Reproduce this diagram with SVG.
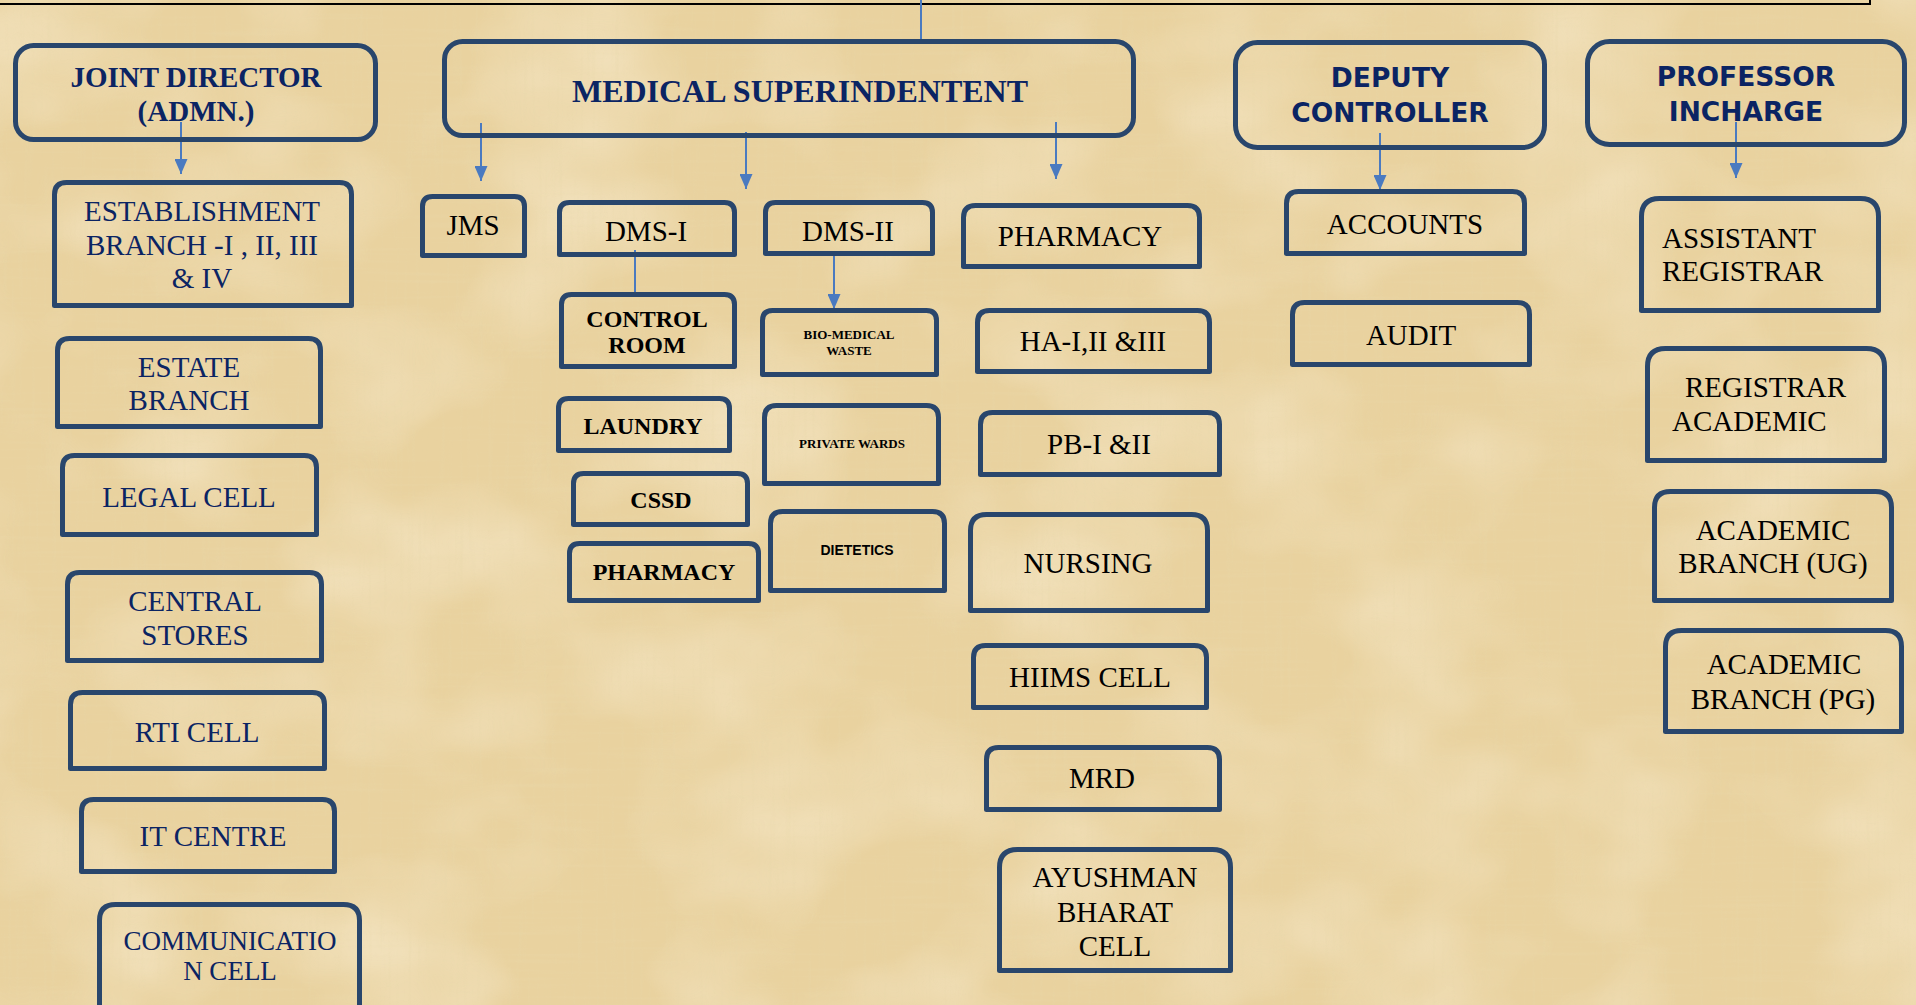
<svg xmlns="http://www.w3.org/2000/svg" width="1916" height="1005" viewBox="0 0 1916 1005">
<defs>
<style>
.box{fill:none;stroke:#29466c;stroke-width:5;stroke-linejoin:round}
.nv{fill:#0b2463;font-family:"Liberation Serif",serif;font-size:29px;text-anchor:middle}
.nv27{font-size:27px}
.bk{fill:#000;font-family:"Liberation Serif",serif;font-size:29px;text-anchor:middle}
.bb{fill:#000;font-family:"Liberation Serif",serif;font-size:24px;font-weight:bold;text-anchor:middle}
.sm{fill:#000;font-family:"Liberation Serif",serif;font-size:13px;font-weight:bold;text-anchor:middle}
.ss{fill:#000;font-family:"Liberation Sans",sans-serif;font-size:14px;font-weight:bold;text-anchor:middle}
.hd{fill:#0b2463;font-family:"Liberation Serif",serif;font-weight:bold;text-anchor:middle}
.hs{fill:#0b2463;font-family:"DejaVu Sans",sans-serif;font-size:26.5px;font-weight:bold;text-anchor:middle}
.st{text-anchor:start}
.ln{fill:none;stroke:#4a7ac0;stroke-width:2}
.ar{fill:none;stroke:#4a7ac0;stroke-width:2;marker-end:url(#arr)}
</style>
<marker id="arr" viewBox="0 0 15 13" markerUnits="userSpaceOnUse" markerWidth="15" markerHeight="13" refX="15" refY="6.5" orient="auto">
<path d="M0 0L15 6.5L0 13Z" fill="#4a7ac0"/>
</marker>
<filter id="tex1" x="0" y="0" width="100%" height="100%">
<feTurbulence type="fractalNoise" baseFrequency="0.006 0.008" numOctaves="3" seed="4"/>
<feColorMatrix type="matrix" values="0 0 0 0 0.98  0 0 0 0 0.91  0 0 0 0 0.76  1.8 0 0 0 -0.75"/>
</filter>
<filter id="tex2" x="0" y="0" width="100%" height="100%">
<feTurbulence type="fractalNoise" baseFrequency="0.25 0.01" numOctaves="2" seed="9"/>
<feColorMatrix type="matrix" values="0 0 0 0 0.80  0 0 0 0 0.68  0 0 0 0 0.40  2 0 0 0 -1"/>
</filter>
<filter id="tex3" x="0" y="0" width="100%" height="100%">
<feTurbulence type="fractalNoise" baseFrequency="0.01 0.25" numOctaves="2" seed="17"/>
<feColorMatrix type="matrix" values="0 0 0 0 0.82  0 0 0 0 0.70  0 0 0 0 0.42  2 0 0 0 -1"/>
</filter>
</defs>
<rect width="1916" height="1005" fill="#E9D29F"/>
<rect width="1916" height="1005" filter="url(#tex1)" opacity="0.5"/>
<rect width="1916" height="1005" filter="url(#tex2)" opacity="0.35"/>
<rect width="1916" height="1005" filter="url(#tex3)" opacity="0.3"/>

<g id="connectors">
<polyline points="0,4 1870,4 1870,0" fill="none" stroke="#000" stroke-width="2"/>
<line class="ln" x1="921" y1="0" x2="921" y2="40"/>
<line class="ar" x1="181" y1="122" x2="181" y2="174"/>
<line class="ar" x1="481" y1="123" x2="481" y2="181"/>
<line class="ar" x1="746" y1="132" x2="746" y2="189"/>
<line class="ar" x1="1056" y1="122" x2="1056" y2="179"/>
<line class="ln" x1="635" y1="250" x2="635" y2="293"/>
<line class="ar" x1="834" y1="254" x2="834" y2="309"/>
<line class="ar" x1="1380" y1="133" x2="1380" y2="190"/>
<line class="ar" x1="1736" y1="122" x2="1736" y2="178"/>
</g>

<g id="joint-director"><rect class="box" x="15.5" y="45.5" width="360" height="94" rx="18"/>
<text class="hd" x="196" y="87" font-size="29">JOINT DIRECTOR</text><text class="hd" x="196" y="121" font-size="29">(ADMN.)</text></g>
<g id="medical-superintendent"><rect class="box" x="444.5" y="41.5" width="689" height="94" rx="18"/>
<text class="hd" x="800" y="102" font-size="32">MEDICAL SUPERINDENTENT</text></g>
<g id="deputy-controller"><rect class="box" x="1235.5" y="42.5" width="309" height="105" rx="22"/>
<text class="hs" x="1390" y="87">DEPUTY</text><text class="hs" x="1390" y="122">CONTROLLER</text></g>
<g id="professor-incharge"><rect class="box" x="1587.5" y="41.5" width="317" height="103" rx="22"/>
<text class="hs" x="1746" y="86">PROFESSOR</text><text class="hs" x="1746" y="121">INCHARGE</text></g>

<g id="establishment"><path class="box" d="M54.5 305.5V194.5Q54.5 182.5 66.5 182.5H339.5Q351.5 182.5 351.5 194.5V305.5Z"/>
<text class="nv" x="202" y="221">ESTABLISHMENT</text><text class="nv" x="202" y="255">BRANCH -I , II, III</text><text class="nv" x="202" y="288">&amp; IV</text></g>
<g id="estate"><path class="box" d="M57.5 426.5V350.5Q57.5 338.5 69.5 338.5H308.5Q320.5 338.5 320.5 350.5V426.5Z"/>
<text class="nv" x="189" y="377">ESTATE</text><text class="nv" x="189" y="410">BRANCH</text></g>
<g id="legal"><path class="box" d="M62.5 534.5V467.5Q62.5 455.5 74.5 455.5H304.5Q316.5 455.5 316.5 467.5V534.5Z"/>
<text class="nv" x="189" y="507">LEGAL CELL</text></g>
<g id="central-stores"><path class="box" d="M67.5 660.5V584.5Q67.5 572.5 79.5 572.5H309.5Q321.5 572.5 321.5 584.5V660.5Z"/>
<text class="nv" x="195" y="611">CENTRAL</text><text class="nv" x="195" y="645">STORES</text></g>
<g id="rti"><path class="box" d="M70.5 768.5V704.5Q70.5 692.5 82.5 692.5H312.5Q324.5 692.5 324.5 704.5V768.5Z"/>
<text class="nv" x="197" y="742">RTI CELL</text></g>
<g id="it-centre"><path class="box" d="M81.5 871.5V811.5Q81.5 799.5 93.5 799.5H322.5Q334.5 799.5 334.5 811.5V871.5Z"/>
<text class="nv" x="213" y="846">IT CENTRE</text></g>
<g id="communication"><path class="box" d="M99.5 1012V920.5Q99.5 904.5 115.5 904.5H343.5Q359.5 904.5 359.5 920.5V1012Z"/>
<text class="nv nv27" x="230" y="950">COMMUNICATIO</text><text class="nv nv27" x="230" y="980">N CELL</text></g>

<g id="jms"><path class="box" d="M422.5 255.5V206.5Q422.5 196.5 432.5 196.5H514.5Q524.5 196.5 524.5 206.5V255.5Z"/>
<text class="bk" x="473" y="235">JMS</text></g>
<g id="dms1"><path class="box" d="M559.5 254.5V212.5Q559.5 202.5 569.5 202.5H724.5Q734.5 202.5 734.5 212.5V254.5Z"/>
<text class="bk" x="646" y="241">DMS-I</text></g>
<g id="dms2"><path class="box" d="M765.5 253.5V212.5Q765.5 202.5 775.5 202.5H922.5Q932.5 202.5 932.5 212.5V253.5Z"/>
<text class="bk" x="848" y="241">DMS-II</text></g>
<g id="pharmacy-ms"><path class="box" d="M963.5 266.5V217.5Q963.5 205.5 975.5 205.5H1187.5Q1199.5 205.5 1199.5 217.5V266.5Z"/>
<text class="bk" x="1080" y="246">PHARMACY</text></g>
<g id="control-room"><path class="box" d="M561.5 366.5V304.5Q561.5 294.5 571.5 294.5H724.5Q734.5 294.5 734.5 304.5V366.5Z"/>
<text class="bb" x="647" y="327">CONTROL</text><text class="bb" x="647" y="353">ROOM</text></g>
<g id="bio-medical"><path class="box" d="M762.5 374.5V320.5Q762.5 310.5 772.5 310.5H926.5Q936.5 310.5 936.5 320.5V374.5Z"/>
<text class="sm" x="849" y="339">BIO-MEDICAL</text><text class="sm" x="849" y="355">WASTE</text></g>
<g id="ha"><path class="box" d="M977.5 371.5V322.5Q977.5 310.5 989.5 310.5H1197.5Q1209.5 310.5 1209.5 322.5V371.5Z"/>
<text class="bk" x="1093" y="351">HA-I,II &amp;III</text></g>
<g id="laundry"><path class="box" d="M558.5 450.5V408.5Q558.5 398.5 568.5 398.5H719.5Q729.5 398.5 729.5 408.5V450.5Z"/>
<text class="bb" x="643" y="434">LAUNDRY</text></g>
<g id="private-wards"><path class="box" d="M764.5 483.5V417.5Q764.5 405.5 776.5 405.5H926.5Q938.5 405.5 938.5 417.5V483.5Z"/>
<text class="sm" x="852" y="448">PRIVATE WARDS</text></g>
<g id="pb"><path class="box" d="M980.5 474.5V424.5Q980.5 412.5 992.5 412.5H1207.5Q1219.5 412.5 1219.5 424.5V474.5Z"/>
<text class="bk" x="1099" y="454">PB-I &amp;II</text></g>
<g id="cssd"><path class="box" d="M573.5 524.5V483.5Q573.5 473.5 583.5 473.5H737.5Q747.5 473.5 747.5 483.5V524.5Z"/>
<text class="bb" x="661" y="508">CSSD</text></g>
<g id="dietetics"><path class="box" d="M770.5 590.5V523.5Q770.5 511.5 782.5 511.5H932.5Q944.5 511.5 944.5 523.5V590.5Z"/>
<text class="ss" x="857" y="555">DIETETICS</text></g>
<g id="nursing"><path class="box" d="M970.5 610.5V530.5Q970.5 514.5 986.5 514.5H1191.5Q1207.5 514.5 1207.5 530.5V610.5Z"/>
<text class="bk" x="1088" y="573">NURSING</text></g>
<g id="pharmacy-dms"><path class="box" d="M569.5 600.5V553.5Q569.5 543.5 579.5 543.5H748.5Q758.5 543.5 758.5 553.5V600.5Z"/>
<text class="bb" x="664" y="580">PHARMACY</text></g>
<g id="hiims"><path class="box" d="M973.5 707.5V657.5Q973.5 645.5 985.5 645.5H1194.5Q1206.5 645.5 1206.5 657.5V707.5Z"/>
<text class="bk" x="1090" y="687">HIIMS CELL</text></g>
<g id="mrd"><path class="box" d="M986.5 809.5V759.5Q986.5 747.5 998.5 747.5H1207.5Q1219.5 747.5 1219.5 759.5V809.5Z"/>
<text class="bk" x="1102" y="788">MRD</text></g>
<g id="ayushman"><path class="box" d="M999.5 970.5V867.5Q999.5 849.5 1017.5 849.5H1212.5Q1230.5 849.5 1230.5 867.5V970.5Z"/>
<text class="bk" x="1115" y="887">AYUSHMAN</text><text class="bk" x="1115" y="922">BHARAT</text><text class="bk" x="1115" y="956">CELL</text></g>

<g id="accounts"><path class="box" d="M1286.5 253.5V203.5Q1286.5 191.5 1298.5 191.5H1512.5Q1524.5 191.5 1524.5 203.5V253.5Z"/>
<text class="bk" x="1405" y="234">ACCOUNTS</text></g>
<g id="audit"><path class="box" d="M1292.5 364.5V314.5Q1292.5 302.5 1304.5 302.5H1517.5Q1529.5 302.5 1529.5 314.5V364.5Z"/>
<text class="bk" x="1411" y="345">AUDIT</text></g>
<g id="assistant-registrar"><path class="box" d="M1641.5 310.5V216.5Q1641.5 198.5 1659.5 198.5H1860.5Q1878.5 198.5 1878.5 216.5V310.5Z"/>
<text class="bk st" x="1662" y="248">ASSISTANT</text><text class="bk st" x="1662" y="281">REGISTRAR</text></g>
<g id="registrar-academic"><path class="box" d="M1647.5 460.5V366.5Q1647.5 348.5 1665.5 348.5H1866.5Q1884.5 348.5 1884.5 366.5V460.5Z"/>
<text class="bk st" x="1685" y="397">REGISTRAR</text><text class="bk st" x="1672" y="431">ACADEMIC</text></g>
<g id="academic-ug"><path class="box" d="M1654.5 600.5V507.5Q1654.5 491.5 1670.5 491.5H1875.5Q1891.5 491.5 1891.5 507.5V600.5Z"/>
<text class="bk" x="1773" y="540">ACADEMIC</text><text class="bk" x="1773" y="573">BRANCH (UG)</text></g>
<g id="academic-pg"><path class="box" d="M1665.5 731.5V646.5Q1665.5 630.5 1681.5 630.5H1885.5Q1901.5 630.5 1901.5 646.5V731.5Z"/>
<text class="bk" x="1784" y="674">ACADEMIC</text><text class="bk" x="1783" y="709">BRANCH (PG)</text></g>
</svg>
